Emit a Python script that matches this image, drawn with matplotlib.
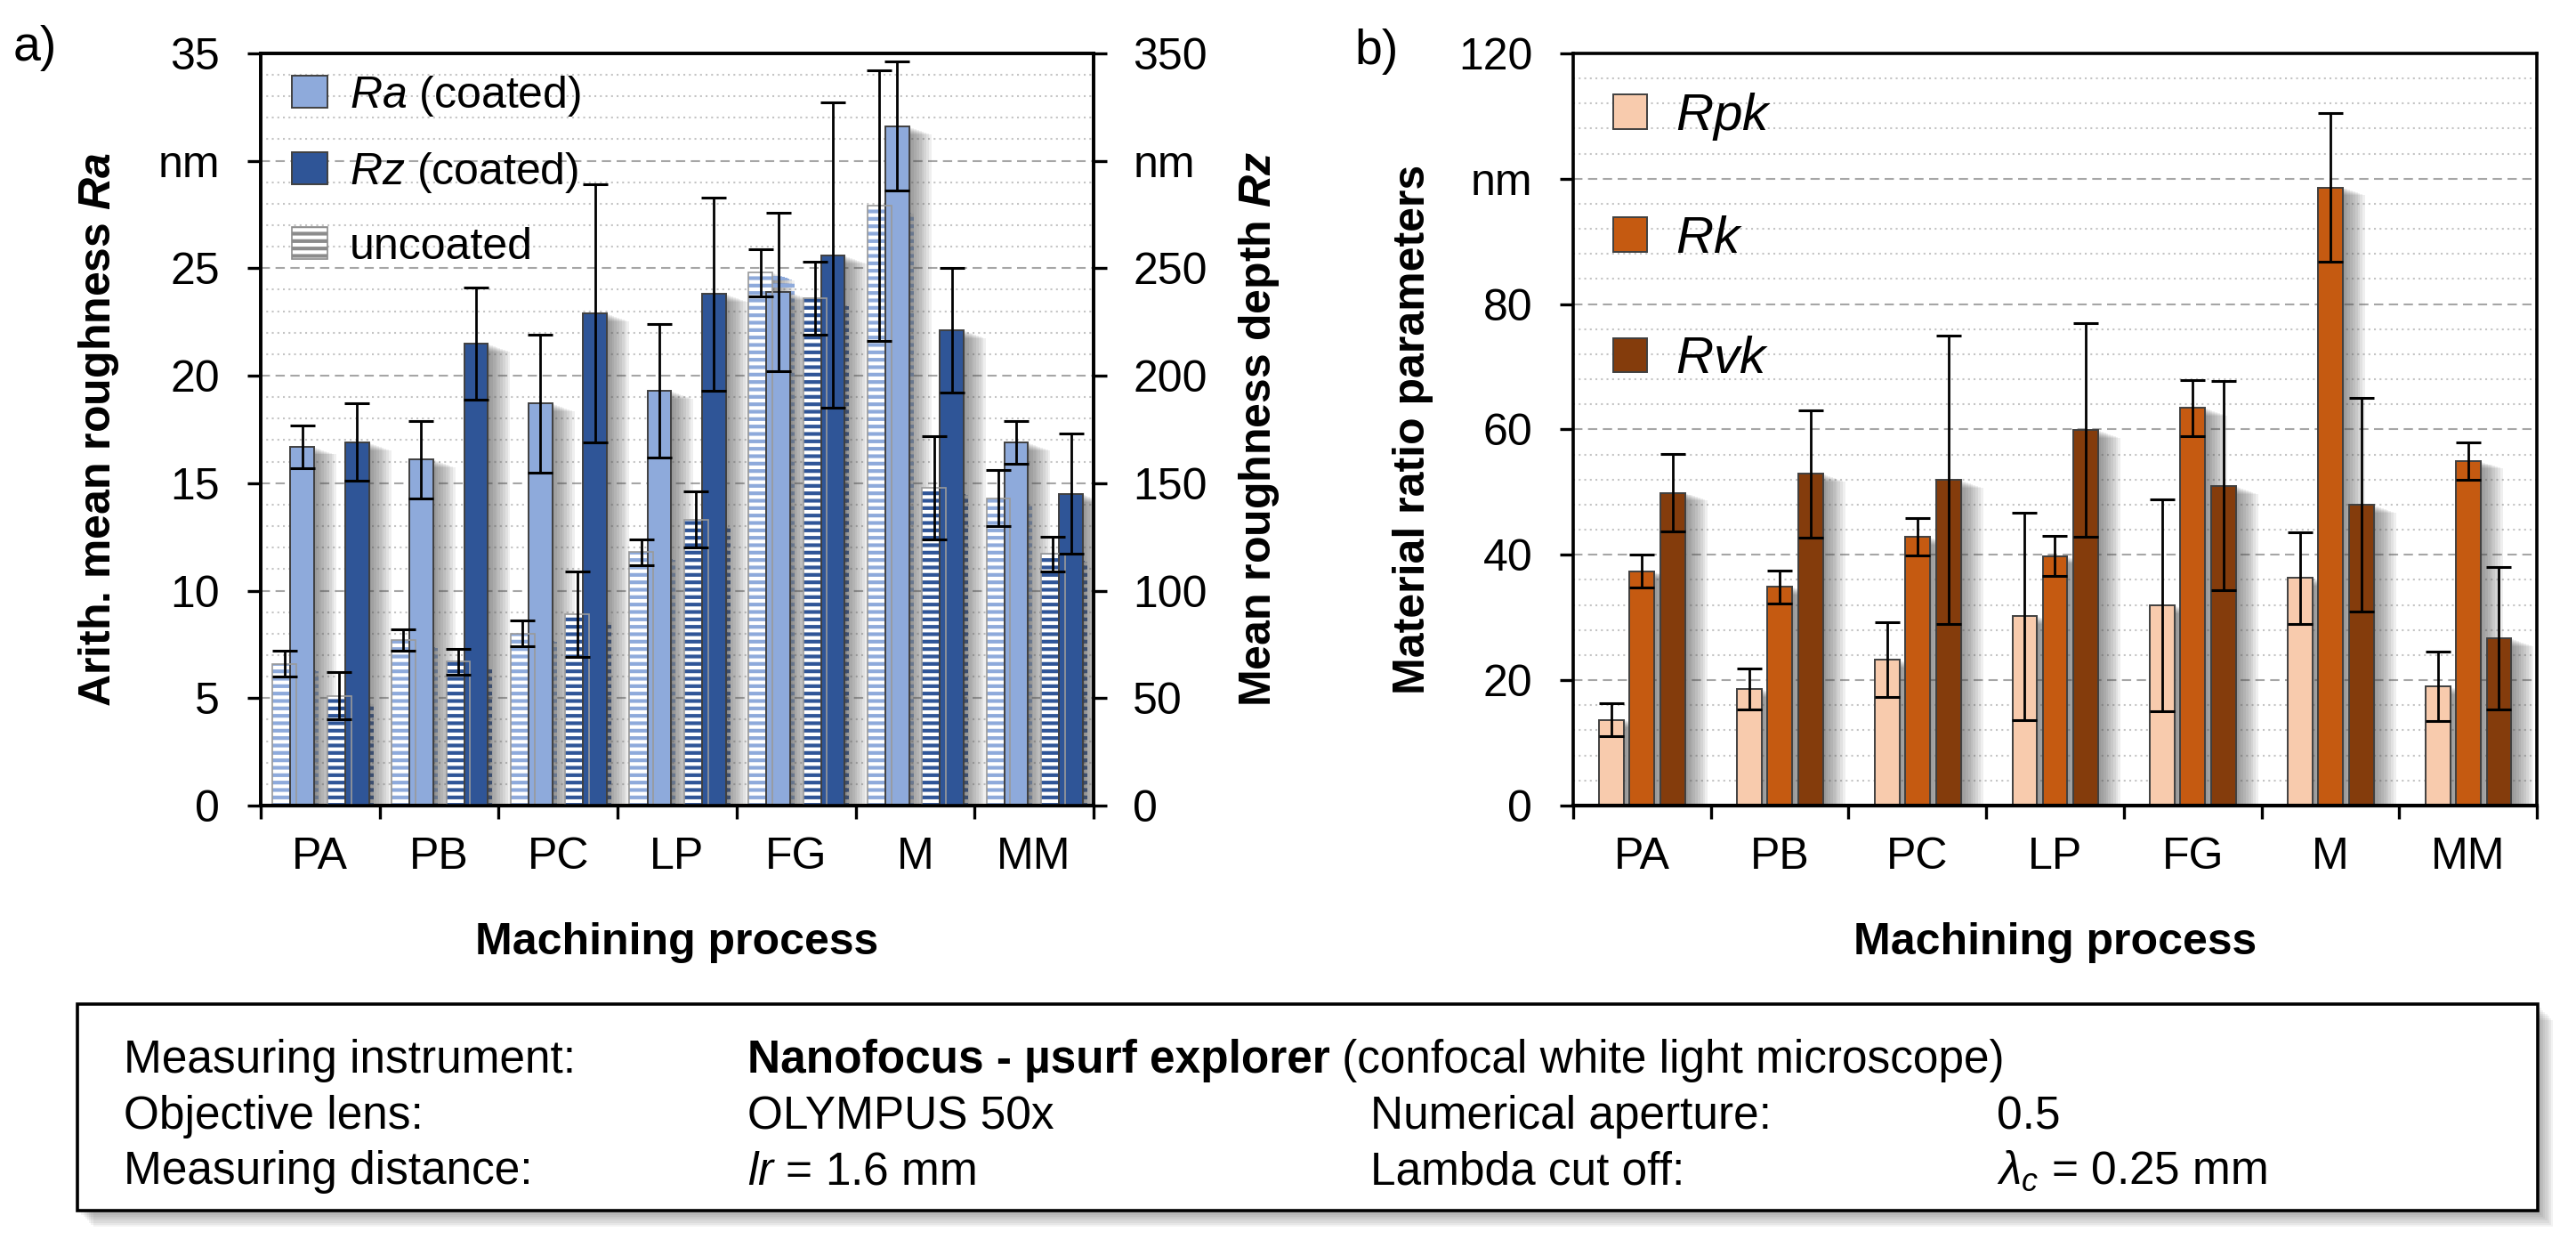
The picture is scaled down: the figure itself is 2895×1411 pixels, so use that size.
import matplotlib
matplotlib.use("Agg")
import matplotlib.pyplot as plt
import numpy as np
from matplotlib.patches import Patch, Rectangle
from matplotlib import patheffects as pe
from matplotlib.ticker import MultipleLocator, FixedLocator

plt.rcParams['font.family'] = ['Liberation Sans', 'DejaVu Sans']
plt.rcParams['mathtext.fontset'] = 'custom'
plt.rcParams['mathtext.rm'] = 'Liberation Sans'
plt.rcParams['mathtext.it'] = 'Liberation Sans:italic'
plt.rcParams['mathtext.bf'] = 'Liberation Sans:bold'
try:
    plt.rcParams['mathtext.bfit'] = 'Liberation Sans:bold:italic'
    BFIT = True
except Exception:
    BFIT = False
plt.rcParams['hatch.linewidth'] = 3.0

# ---------------- data ----------------
categories = ['PA', 'PB', 'PC', 'LP', 'FG', 'M', 'MM']

ra_uncoated = [6.6, 7.7, 8.0, 11.8, 24.8, 27.9, 14.3]
ra_uncoated_err = [0.6, 0.5, 0.6, 0.6, 1.1, 6.3, 1.3]
ra_coated = [16.7, 16.1, 18.7, 19.3, 23.9, 31.6, 16.9]
ra_coated_err = [1.0, 1.8, 3.2, 3.1, 3.7, 3.0, 1.0]
rz_uncoated = [51, 67, 89, 133, 236, 148, 117]
rz_uncoated_err = [11, 6, 20, 13, 17, 24, 8]
rz_coated = [169, 215, 229, 238, 256, 221, 145]
rz_coated_err = [18, 26, 60, 45, 71, 29, 28]

rpk = [13.7, 18.6, 23.3, 30.2, 31.9, 36.3, 19.0]
rpk_err = [2.6, 3.3, 6.0, 16.5, 16.9, 7.3, 5.5]
rk = [37.4, 34.9, 42.9, 39.8, 63.4, 98.6, 55.0]
rk_err = [2.6, 2.6, 3.0, 3.2, 4.5, 11.9, 3.0]
rvk = [49.9, 52.9, 52.0, 59.9, 51.0, 48.0, 26.7]
rvk_err = [6.2, 10.2, 23.0, 17.0, 16.7, 17.1, 11.3]

ra_left_ticks = [0, 5, 10, 15, 20, 25, 30, 35]
ra_left_labels = ['0', '5', '10', '15', '20', '25', 'nm', '35']
rz_right_ticks = [0, 50, 100, 150, 200, 250, 300, 350]
rz_right_labels = ['0', '50', '100', '150', '200', '250', 'nm', '350']
b_ticks = [0, 20, 40, 60, 80, 100, 120]
b_labels = ['0', '20', '40', '60', '80', 'nm', '120']

# ---------------- style ----------------
C_RA = '#8EAADB'
C_RZ = '#2F5597'
C_RPK = '#F8CBAD'
C_RK = '#C55A11'
C_RVK = '#843C0C'
EDGE = '#404040'
FS_TICK = 36
FS_LAB = 36
FS_BOX = 37

shadow = [pe.SimplePatchShadow(offset=(k * 2.0, -k * 0.7), shadow_rgbFace='0.3', alpha=0.085)
          for k in range(9, 0, -1)] + [pe.Normal()]

fig = plt.figure(figsize=(28.95, 14.11), dpi=100)

x = np.arange(len(categories))


def style_axes(ax):
    for s in ax.spines.values():
        s.set_linewidth(2.6)
        s.set_color('black')
    ax.spines['bottom'].set_linewidth(3.0)
    ax.set_xlim(-0.5, len(categories) - 0.5)
    ax.xaxis.set_major_locator(FixedLocator(np.arange(-0.5, len(categories), 1.0)))
    ax.xaxis.set_minor_locator(FixedLocator(x))
    ax.set_xticklabels([''] * (len(categories) + 1))
    ax.set_xticklabels(categories, minor=True)
    ax.tick_params(axis='x', which='major', direction='out', length=11, width=2.4)
    ax.tick_params(axis='x', which='minor', length=0, labelsize=FS_TICK, pad=25)
    ax.tick_params(axis='y', which='major', direction='out', length=11, width=2.4,
                   labelsize=FS_TICK, pad=22)
    ax.tick_params(axis='y', which='minor', length=0)
    ax.set_axisbelow(True)
    ax.yaxis.grid(True, which='major', linestyle=(0, (5, 3)), color='#A6A6A6', linewidth=1.5)
    ax.yaxis.grid(True, which='minor', linestyle=(0, (1.0, 2.0)), color='#C4C4C4', linewidth=1.5)


def draw_bars(ax, pos, vals, errs, color, width, hatched=False):
    if hatched:
        bars = ax.bar(pos, vals, width, facecolor='white', edgecolor=color, hatch='--',
                      linewidth=0, zorder=2)
        for b in bars:
            b.set_path_effects(shadow)
        ax.bar(pos, vals, width, fill=False, edgecolor='#9A9A9A', linewidth=1.2, zorder=2.1)
    else:
        bars = ax.bar(pos, vals, width, color=color, edgecolor=EDGE, linewidth=1.4, zorder=2)
        for b in bars:
            b.set_path_effects(shadow)
    ax.errorbar(pos, vals, yerr=errs, fmt='none', ecolor='black', elinewidth=2.0,
                capsize=10, capthick=2.2, zorder=3)


# ---------------- panel a ----------------
axa = fig.add_axes([0.1012, 0.3586, 0.3233, 0.599])
style_axes(axa)
axa.set_ylim(0, 35)
axa.yaxis.set_major_locator(FixedLocator(ra_left_ticks))
axa.set_yticklabels(ra_left_labels)
axa.yaxis.set_minor_locator(MultipleLocator(1))

w = 0.2
draw_bars(axa, x - 0.30, ra_uncoated, ra_uncoated_err, C_RA, w, hatched=True)
draw_bars(axa, x - 0.15, ra_coated, ra_coated_err, C_RA, w)

axa2 = axa.twinx()
axa2.set_ylim(0, 350)
axa2.yaxis.set_major_locator(FixedLocator(rz_right_ticks))
axa2.set_yticklabels(rz_right_labels)
axa2.tick_params(axis='y', which='major', direction='out', length=11, width=2.4,
                 labelsize=FS_TICK, pad=21)
for s in axa2.spines.values():
    s.set_linewidth(2.6)
draw_bars(axa2, x + 0.16, rz_uncoated, rz_uncoated_err, C_RZ, w, hatched=True)
draw_bars(axa2, x + 0.31, rz_coated, rz_coated_err, C_RZ, w)

if BFIT:
    ylab_a = r'Arith. mean roughness $\mathbfit{Ra}$'
    ylab_a2 = r'Mean roughness depth $\mathbfit{Rz}$'
else:
    ylab_a = r'Arith. mean roughness $\it{Ra}$'
    ylab_a2 = r'Mean roughness depth $\it{Rz}$'
axa.set_ylabel(ylab_a, fontsize=FS_LAB, fontweight='bold', labelpad=30)
axa2.set_ylabel(ylab_a2, fontsize=FS_LAB, fontweight='bold', labelpad=24)
axa.set_xlabel('Machining process', fontsize=FS_LAB, fontweight='bold', labelpad=36)

h_a = [Patch(facecolor=C_RA, edgecolor=EDGE, linewidth=1.4),
       Patch(facecolor=C_RZ, edgecolor=EDGE, linewidth=1.4),
       Patch(facecolor='white', edgecolor='#8C8C8C', hatch='--', linewidth=1.2)]
l_a = [r'$\it{Ra}$ (coated)', r'$\it{Rz}$ (coated)', 'uncoated']
axa2.legend(h_a, l_a, loc='upper left', bbox_to_anchor=(0.037, 0.973), frameon=False,
            fontsize=FS_TICK, handlelength=0.8, handleheight=0.74, labelspacing=0.72,
            handletextpad=0.5, borderaxespad=0.0, borderpad=0.0)

# ---------------- panel b ----------------
axb = fig.add_axes([0.6107, 0.3586, 0.3741, 0.599])
style_axes(axb)
axb.set_ylim(0, 120)
axb.yaxis.set_major_locator(FixedLocator(b_ticks))
axb.set_yticklabels(b_labels)
axb.yaxis.set_minor_locator(MultipleLocator(4))

wb = 0.18
draw_bars(axb, x - 0.22, rpk, rpk_err, C_RPK, wb)
draw_bars(axb, x, rk, rk_err, C_RK, wb)
draw_bars(axb, x + 0.225, rvk, rvk_err, C_RVK, wb)

axb.set_ylabel('Material ratio parameters', fontsize=FS_LAB, fontweight='bold', labelpad=20)
axb.set_xlabel('Machining process', fontsize=FS_LAB, fontweight='bold', labelpad=36)

h_b = [Patch(facecolor=C_RPK, edgecolor=EDGE, linewidth=1.4),
       Patch(facecolor=C_RK, edgecolor=EDGE, linewidth=1.4),
       Patch(facecolor=C_RVK, edgecolor=EDGE, linewidth=1.4)]
l_b = [r'$\it{Rpk}$', r'$\it{Rk}$', r'$\it{Rvk}$']
axb.legend(h_b, l_b, loc='upper left', bbox_to_anchor=(0.042, 0.95), frameon=False,
           fontsize=42, handlelength=0.64, handleheight=0.64, labelspacing=1.4,
           handletextpad=0.55, borderaxespad=0.0, borderpad=0.0)

# panel letters
fig.text(0.005, 0.962, 'a)', fontsize=40, va='center', ha='left')
fig.text(0.526, 0.959, 'b)', fontsize=40, va='center', ha='left')

# ---------------- info box ----------------
box = Rectangle((0.030, 0.036), 0.955, 0.1646, transform=fig.transFigure, fill=True,
                facecolor='white', edgecolor='black', linewidth=2.6, zorder=1,
                path_effects=[pe.SimplePatchShadow(offset=(k * 1.6, -k * 1.6), shadow_rgbFace='0.3',
                                                   alpha=0.07) for k in range(8, 0, -1)] + [pe.Normal()])
fig.add_artist(box)

rows_base = [0.1460, 0.1013, 0.0574]
c1, c2, c3, c4 = 0.048, 0.290, 0.532, 0.775
kw = dict(fontsize=FS_BOX, va='baseline', zorder=3)
fig.text(c1, rows_base[0], 'Measuring instrument:', **kw)
t_bold = fig.text(c2, rows_base[0], 'Nanofocus - µsurf explorer', fontweight='bold', **kw)
fig.canvas.draw()
r = fig.canvas.get_renderer()
bb = t_bold.get_window_extent(renderer=r)
x_after = bb.x1 / fig.bbox.width
fig.text(x_after, rows_base[0], ' (confocal white light microscope)', **kw)
fig.text(c1, rows_base[1], 'Objective lens:', **kw)
fig.text(c2, rows_base[1], 'OLYMPUS 50x', **kw)
fig.text(c3, rows_base[1], 'Numerical aperture:', **kw)
fig.text(c4, rows_base[1], '0.5', **kw)
fig.text(c1, rows_base[2], 'Measuring distance:', **kw)
fig.text(c2, rows_base[2], r'$\it{lr}$ = 1.6 mm', **kw)
fig.text(c3, rows_base[2], 'Lambda cut off:', **kw)
fig.text(c4, rows_base[2], r'$\it{\lambda_c}$ = 0.25 mm', **kw)

fig.savefig('out.png', dpi=100, facecolor='white')
